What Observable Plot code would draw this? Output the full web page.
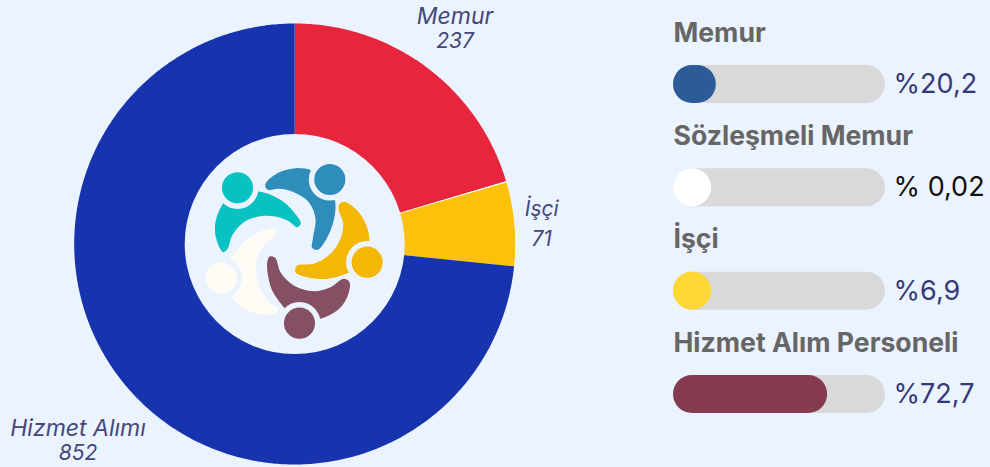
<!DOCTYPE html>
<html lang="tr">
<head>
<meta charset="utf-8">
<script src="https://cdn.jsdelivr.net/npm/d3@7"></script>
<script src="https://cdn.jsdelivr.net/npm/@observablehq/plot@0.6"></script>
<style>
  html, body { margin: 0; padding: 0; background: #EBF3FF; overflow: hidden; }
  #chart { display: flex; width: 990px; height: 467px; }
  #chart svg { display: block; background: transparent; flex: none; }
</style>
</head>
<body>
<div id="chart"></div>
<script>
// ---- pie data
const sliceNames = ["Memur", "Sözleşmeli Memur", "İşçi", "Hizmet Alımı"];
const sliceValues = [237, 1, 71, 852];
const sliceColors = ["#E7253C", "#FFFFFF", "#FCC10A", "#1733AE"];
const sliceLabelled = [true, false, true, true];

// ---- bar data
const barTitles = ["Memur", "Sözleşmeli Memur", "İşçi", "Hizmet Alım Personeli"];
const barValues = [20.2, 0.02, 6.9, 72.7];
const barTexts = ["%20,2", "% 0,02", "%6,9", "%72,7"];
const barColors = ["#2B5C98", "#FFFFFF", "#FFD736", "#853A50"];
const barTextColors = ["#35397A", "#111111", "#35397A", "#35397A"];

// ---- logo artwork (five people around a circle)
const logoNames = ["teal", "blue", "amber", "plum", "cream"];
const logoColors = ["#08C2C2", "#2E8DBB", "#F3B705", "#865064", "#FFFCF5"];
const logoHeads = [[171,172],[448,147],[560,395],[357,578],[122,442]];
const logoBodies = [
  [[128,365],[112,340],[103,295],[112,250],[135,210],[170,190],[235,183],[300,208],[340,245],[361,278],[350,290],[325,272],[285,258],[240,257],[190,275],[155,315],[141,355]],
  [[254,165],[262,150],[300,124],[345,113],[395,120],[445,150],[465,225],[450,300],[412,358],[395,352],[397,325],[405,265],[385,215],[340,185],[295,175],[262,178]],
  [[476,222],[490,214],[530,240],[558,285],[567,335],[560,395],[505,427],[440,445],[380,440],[345,425],[350,405],[400,400],[450,370],[480,325],[488,280],[474,235]],
  [[268,378],[284,382],[300,425],[340,465],[400,482],[450,470],[490,445],[507,455],[500,500],[470,540],[420,565],[357,578],[310,530],[275,480],[261,425],[261,390]],
  [[285,298],[285,315],[250,345],[228,400],[235,465],[265,515],[293,535],[285,549],[240,550],[190,535],[150,495],[122,442],[150,385],[190,335],[235,305],[275,293]]
];

const bg = "#EBF3FF";
const R = 220.5, r0 = 110, cx = 294.2, cy = 243.5;
const labelRadius = {"Memur": 268, "İşçi": 248, "Hizmet Alımı": 292};
const labelGap = {"Memur": 25, "İşçi": 30, "Hizmet Alımı": 25};
const labelNudge = {"Memur": 0, "İşçi": 3, "Hizmet Alımı": 1};
const labelSize = {"Memur": 23, "İşçi": 21, "Hizmet Alımı": 23};

// Slice outlines built from the values
const arcs = d3.pie().sort(null)(sliceValues);
const slicePoints = arcs.flatMap((a, i) => {
  const n = Math.max(2, Math.ceil((a.endAngle - a.startAngle) / 0.01));
  const pts = [{name: sliceNames[i], x: 0, y: 0}];
  for (let k = 0; k <= n; ++k) {
    const t = a.startAngle + (a.endAngle - a.startAngle) * k / n;
    pts.push({name: sliceNames[i], x: R * Math.sin(t), y: -R * Math.cos(t)});
  }
  return pts;
});
const sliceLabels = arcs.flatMap((a, i) => {
  if (!sliceLabelled[i]) return [];
  const m = (a.startAngle + a.endAngle) / 2, name = sliceNames[i], d = labelRadius[name];
  return [{name, value: sliceValues[i], x: d * Math.sin(m), y: -d * Math.cos(m) + labelNudge[name], gap: labelGap[name], size: labelSize[name]}];
});

// Logo artwork mapped to the centre of the ring
const lx = z => z / 3 + 180 - cx, ly = z => z / 3 + 130 - cy;
const logoBodyPts = logoBodies.flatMap((b, i) => b.map(([px, py]) => ({name: logoNames[i], x: lx(px), y: ly(py)})));
const logoHeadPts = logoHeads.map(([px, py], i) => ({name: logoNames[i], x: lx(px), y: ly(py)}));

const fontBody = "Inter, 'Open Sans', sans-serif";

const pie = Plot.plot({
  width: 650, height: 467, margin: 0,
  style: {background: "transparent", overflow: "visible"},
  x: {domain: [-cx, 650 - cx], range: [0, 650], axis: null},
  y: {domain: [-cy, 467 - cy], range: [0, 467], axis: null},
  color: {domain: [...sliceNames, ...logoNames], range: [...sliceColors, ...logoColors]},
  marks: [
    Plot.line(slicePoints, {x: "x", y: "y", z: "name", fill: "name", stroke: "none"}),
    Plot.dot([{x: 0, y: 0}], {x: "x", y: "y", r: r0, fill: bg, stroke: "none"}),
    Plot.line(logoBodyPts, {x: "x", y: "y", z: "name", fill: "name", stroke: "none", curve: "catmull-rom-closed"}),
    Plot.dot(logoHeadPts, {x: "x", y: "y", r: 18.3, fill: "name", stroke: bg, strokeWidth: 5.5}),
    Plot.text(sliceLabels, {x: "x", y: d => d.y - d.gap / 2, text: "name", fontSize: d => d.size, fontStyle: "italic", fontFamily: fontBody, fill: "#45477A", textAnchor: "middle"}),
    Plot.text(sliceLabels, {x: "x", y: d => d.y + d.gap / 2, text: d => String(d.value), fontSize: 21, fontStyle: "italic", fontFamily: fontBody, fill: "#45477A", textAnchor: "middle"})
  ]
});

const rows = barTitles.map((title, i) => ({title, value: barValues[i], text: barTexts[i], textColor: barTextColors[i]}));
// A bar never gets shorter than its round cap
const minShown = 18;

const bars = Plot.plot({
  width: 340, height: 467, margin: 0,
  style: {background: "transparent", overflow: "visible"},
  x: {domain: [0, 100], range: [23, 235], axis: null},
  y: {domain: barTitles, range: [65, 413], paddingInner: 0.632, paddingOuter: 0, round: false, axis: null},
  color: {domain: barTitles, range: barColors},
  marks: [
    Plot.barX(rows, {x1: () => 0, x2: () => 100, y: "title", fill: "#D9D9D9", rx: 19}),
    Plot.barX(rows, {x1: () => 0, x2: d => Math.max(d.value, minShown), y: "title", fill: "title", rx: 19}),
    Plot.text(rows, {x: () => 0, y: "title", dy: -51.5, text: "title", textAnchor: "start", fontFamily: fontBody, fontWeight: 700, fontSize: 26.6, fill: "#666666"}),
    Plot.text(rows, {x: () => 103.8, y: "title", text: "text", textAnchor: "start", fontFamily: fontBody, fontSize: 27, fill: d => d.textColor})
  ]
});

document.getElementById("chart").append(pie, bars);
</script>
</body>
</html>
